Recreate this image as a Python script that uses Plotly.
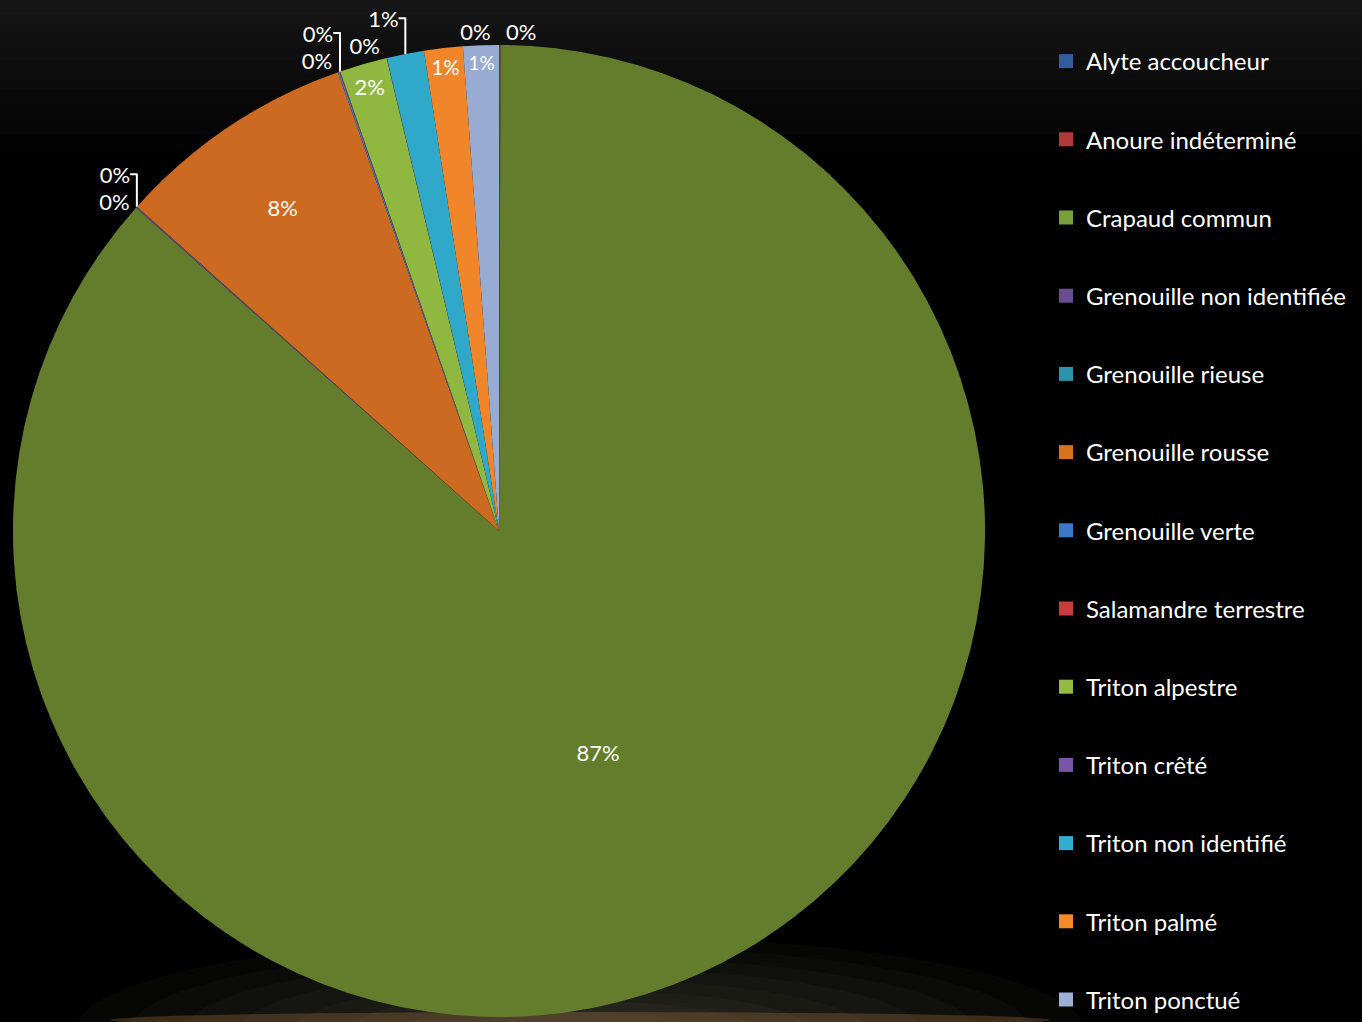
import plotly.graph_objects as go

species = [
    "Alyte accoucheur", "Anoure indéterminé", "Crapaud commun",
    "Grenouille non identifiée", "Grenouille rieuse", "Grenouille rousse",
    "Grenouille verte", "Salamandre terrestre", "Triton alpestre",
    "Triton crêté", "Triton non identifié", "Triton palmé", "Triton ponctué",
]
counts = [2, 3, 8760, 4, 1, 810, 6, 2, 160, 1, 125, 130, 120]
slice_colors = [
    "#2F5E9B", "#B0393A", "#637D2C", "#6A4C93", "#2A94AC", "#CC6A21",
    "#3C78C8", "#C83C3C", "#90B840", "#7B55A8", "#2FA8CA", "#F0852A", "#98ABD2",
]
legend_colors = [
    "#2F5E9B", "#B0393A", "#78A03A", "#6A4C93", "#2A94AC", "#D8721F",
    "#3C78C8", "#C83C3C", "#94BC44", "#7B55A8", "#31AED0", "#F58A2B", "#9CB0D6",
]
# which pie copy draws each percentage label (so plotly stacks fewer of them)
pos_main = [
    "outside", "none", "inside", "outside", "outside", "inside",
    "outside", "outside", "inside", "none", "none", "inside", "inside",
]
pos_overlay = [
    "none", "none", "none", "none", "none", "none",
    "none", "none", "none", "outside", "outside", "none", "none",
]
pos_overlay2 = [
    "none", "outside", "none", "none", "none", "none",
    "none", "none", "none", "none", "none", "none", "none",
]

FONT = "Lato"
W, H = 1362, 1022
dom = dict(x=[12 / W, 986 / W], y=[1 - 1019 / H, 1 - 45 / H])
clear = ["rgba(0,0,0,0)"] * len(species)

fig = go.Figure()
fig.add_trace(go.Pie(
    labels=species, values=counts, sort=False, direction="clockwise", rotation=0,
    marker=dict(colors=slice_colors, line=dict(width=0)),
    texttemplate="%{percent:.0%}", textposition=pos_main,
    insidetextorientation="horizontal",
    textfont=dict(family=FONT, size=22, color="white"),
    showlegend=False, hoverinfo="label+percent", domain=dom,
))
fig.add_trace(go.Pie(
    labels=species, values=counts, sort=False, direction="clockwise", rotation=0,
    marker=dict(colors=clear, line=dict(width=0)),
    texttemplate="%{percent:.0%}", textposition=pos_overlay,
    textfont=dict(family=FONT, size=22, color="white"),
    showlegend=False, hoverinfo="skip", domain=dom,
))
fig.add_trace(go.Pie(
    labels=species, values=counts, sort=False, direction="clockwise", rotation=-0.3,
    marker=dict(colors=clear, line=dict(width=0)),
    texttemplate="%{percent:.0%}", textposition=pos_overlay2,
    textfont=dict(family=FONT, size=22, color="white"),
    showlegend=False, hoverinfo="skip", domain=dom,
))

for name, col in zip(species, legend_colors):
    fig.add_trace(go.Scatter(
        x=[None], y=[None], mode="markers", name=name, legendgroup=name,
        marker=dict(symbol="square", size=14, color=col),
        showlegend=True,
    ))

shapes = []
# top grey gradient
for k in range(10):
    shapes.append(dict(type="rect", xref="paper", yref="paper", x0=0, x1=1,
                       y0=1 - (k + 1) * 15 / H, y1=1, fillcolor="rgba(255,255,255,0.011)",
                       line=dict(width=0), layer="below"))
# bottom glow
for k in range(8):
    rx = 120 + k * 55
    ry = 18 + k * 11
    shapes.append(dict(type="circle", xref="paper", yref="paper",
                       x0=(580 - rx) / W, x1=(580 + rx) / W,
                       y0=(-10 - ry) / H, y1=(-10 + ry) / H,
                       fillcolor="rgba(190,180,170,0.03)", line=dict(width=0), layer="below"))
shapes.append(dict(type="circle", xref="paper", yref="paper",
                   x0=(580 - 470) / W, x1=(580 + 470) / W,
                   y0=-8 / H, y1=8 / H,
                   fillcolor="rgba(150,110,60,0.35)", line=dict(width=0), layer="below"))

fig.update_layout(
    width=W, height=H,
    margin=dict(l=0, r=0, t=0, b=0),
    paper_bgcolor="#000000", plot_bgcolor="rgba(0,0,0,0)",
    xaxis=dict(visible=False), yaxis=dict(visible=False),
    font=dict(family=FONT, color="white"),
    shapes=shapes,
    legend=dict(
        x=1046 / W, xanchor="left", y=1 - 539 / H, yanchor="middle",
        font=dict(family=FONT, size=24, color="white"),
        tracegroupgap=44, bgcolor="rgba(0,0,0,0)", itemclick=False,
    ),
)

fig.write_html("out.html", config={"displayModeBar": False},
               post_script="document.body.style.margin='0px';document.body.style.background='#000';")
